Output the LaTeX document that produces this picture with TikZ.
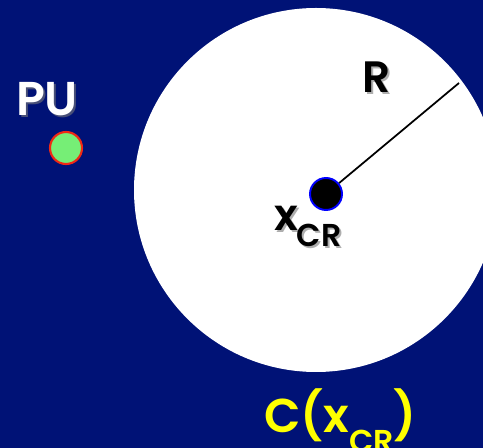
\documentclass[tikz,border=0pt]{standalone}
\usepackage{fontspec}
\setmainfont{Poppins}[BoldFont={* SemiBold}]
\definecolor{navy}{RGB}{0,18,118}
\definecolor{pugreen}{RGB}{118,238,118}
\definecolor{pured}{RGB}{240,40,20}
\definecolor{txtyellow}{RGB}{255,255,0}
\definecolor{shadowgray}{RGB}{120,120,120}
\tikzset{
  lbl/.style={inner sep=0pt, font=\bfseries},
  shadowtxt/.style={lbl, text=shadowgray, opacity=0.6},
}
\begin{document}
\begin{tikzpicture}[x=0.02cm,y=-0.02cm]
\useasboundingbox (0,0) rectangle (483,448);
\clip (0,0) rectangle (483,448);
\fill[navy] (0,0) rectangle (483,448);
\fill[white] (316,190) circle[radius=182];
% PU
\node[shadowtxt, font=\bfseries\fontsize{27}{30}\selectfont] (pushadow) at (49,101) {PU};
\node[lbl, text=white, font=\bfseries\fontsize{27}{30}\selectfont] (pulabel) at (47,99) {PU};
\node[circle, draw=pured, line width=1.2pt, fill=pugreen, minimum size=32*0.02cm, inner sep=0pt] (pu) at (66,148) {};
% center dot
\node[circle, draw=blue, line width=1.1pt, fill=black, minimum size=32*0.02cm, inner sep=0pt] (dot) at (326,194) {};
\coordinate (rend) at (459,83);
\draw[line width=1pt] (dot) -- (rend);
% R
\node[shadowtxt, font=\bfseries\fontsize{25}{28}\selectfont] (rshadow) at (379,79) {R};
\node[lbl, text=black, font=\bfseries\fontsize{25}{28}\selectfont] (rlabel) at (377,77) {R};
% x_CR
\node[shadowtxt, font=\bfseries\fontsize{25}{30}\selectfont] (xshadow) at (288,220) {x};
\node[lbl, text=black, font=\bfseries\fontsize{25}{30}\selectfont] (xlabel) at (286,218) {x};
\node[shadowtxt, font=\bfseries\fontsize{18}{20}\selectfont] (crshadow) at (321,237) {CR};
\node[lbl, text=black, font=\bfseries\fontsize{18}{20}\selectfont] (crlabel) at (319,235) {CR};
% C(x_CR)
\node[lbl, text=txtyellow, font=\bfseries\fontsize{27}{30}\selectfont, anchor=base west] (clabel) at (264,433) {C(x\raisebox{-0.42em}{\fontsize{18}{20}\selectfont CR})};
\end{tikzpicture}
\end{document}
